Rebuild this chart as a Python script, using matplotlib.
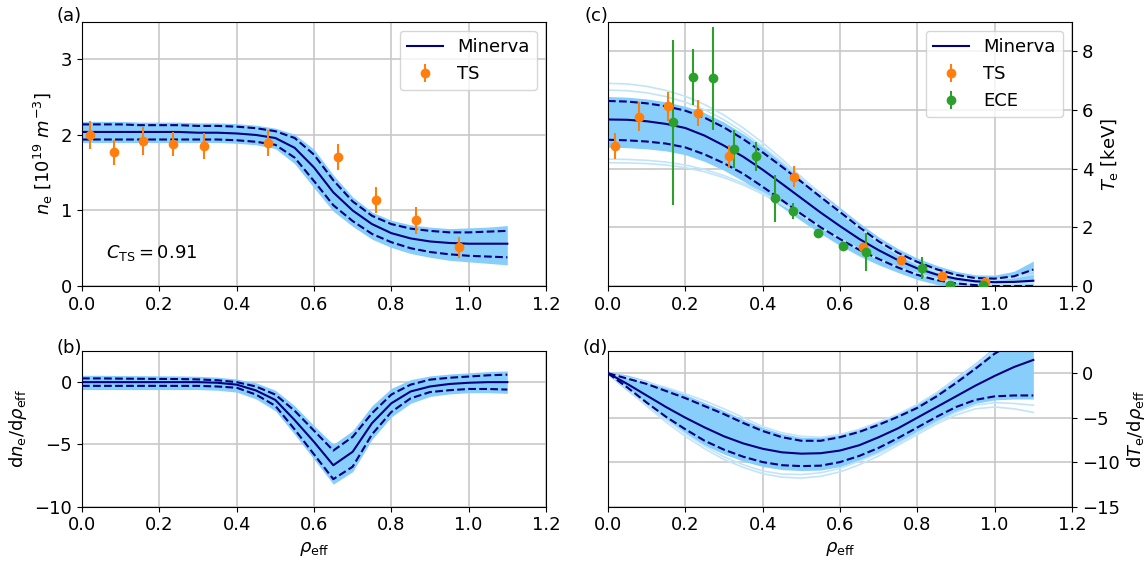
import numpy as np
import matplotlib.pyplot as plt

# data ------------------------------------------------------------------------
rho = [0.00, 0.05, 0.10, 0.15, 0.20, 0.25, 0.30, 0.35, 0.40, 0.45, 0.50, 0.55,
       0.60, 0.65, 0.70, 0.75, 0.80, 0.85, 0.90, 0.95, 1.00, 1.05, 1.10]

# (a) density profile
ne_mean = [2.04, 2.04, 2.04, 2.04, 2.04, 2.04, 2.03, 2.03, 2.02, 2.00, 1.96, 1.83,
           1.57, 1.24, 1.00, 0.82, 0.70, 0.63, 0.59, 0.57, 0.56, 0.56, 0.56]
ne_up = [2.14, 2.14, 2.14, 2.13, 2.13, 2.13, 2.12, 2.12, 2.11, 2.09, 2.05, 1.96,
         1.74, 1.40, 1.12, 0.93, 0.82, 0.76, 0.73, 0.71, 0.71, 0.72, 0.73]
ne_low = [1.94, 1.94, 1.94, 1.94, 1.94, 1.94, 1.94, 1.94, 1.93, 1.91, 1.87, 1.70,
          1.39, 1.07, 0.86, 0.69, 0.58, 0.50, 0.45, 0.42, 0.40, 0.39, 0.38]
ne_band_hi = [2.18, 2.18, 2.18, 2.17, 2.17, 2.17, 2.16, 2.16, 2.15, 2.13, 2.09, 2.01,
              1.81, 1.47, 1.18, 0.98, 0.87, 0.81, 0.78, 0.76, 0.77, 0.78, 0.80]
ne_band_lo = [1.90, 1.90, 1.90, 1.90, 1.90, 1.90, 1.90, 1.90, 1.89, 1.87, 1.82, 1.62,
              1.30, 0.99, 0.79, 0.62, 0.51, 0.43, 0.38, 0.34, 0.32, 0.30, 0.28]
ts_ne_rho = [0.020, 0.083, 0.157, 0.235, 0.315, 0.481, 0.661, 0.760, 0.865, 0.976]
ts_ne = [2.00, 1.77, 1.92, 1.88, 1.85, 1.89, 1.71, 1.14, 0.87, 0.51]
ts_ne_err = [0.19, 0.17, 0.18, 0.16, 0.17, 0.17, 0.17, 0.17, 0.18, 0.14]
c_ts = 0.91

# (b) density gradient
dne_mean = [0.0, 0.0, 0.0, 0.0, 0.0, 0.0, 0.0, -0.05, -0.2, -0.67, -1.43, -3.05,
            -4.8, -6.68, -5.6, -3.3, -1.7, -0.75, -0.35, -0.15, -0.05, 0.0, 0.0]
dne_up = [0.3, 0.3, 0.28, 0.27, 0.26, 0.25, 0.22, 0.15, 0.0, -0.35, -1.0, -2.3,
          -3.9, -5.5, -4.4, -2.5, -1.0, -0.2, 0.2, 0.35, 0.45, 0.55, 0.6]
dne_low = [-0.3, -0.3, -0.3, -0.3, -0.3, -0.3, -0.3, -0.35, -0.45, -1.0, -1.9, -3.8,
           -5.8, -7.8, -6.8, -4.2, -2.4, -1.3, -0.8, -0.65, -0.55, -0.55, -0.6]
dne_band_hi = [0.55, 0.55, 0.53, 0.52, 0.51, 0.5, 0.47, 0.4, 0.25, -0.05, -0.65, -1.9,
               -3.5, -5.0, -3.9, -1.9, -0.5, 0.2, 0.5, 0.65, 0.75, 0.85, 0.9]
dne_band_lo = [-0.6, -0.6, -0.6, -0.6, -0.6, -0.6, -0.6, -0.65, -0.8, -1.35, -2.3, -4.2,
               -6.2, -8.2, -7.2, -4.6, -2.8, -1.7, -1.15, -0.95, -0.85, -0.85, -0.9]

# (c) temperature profile
te_mean = [5.67, 5.66, 5.61, 5.52, 5.38, 5.12, 4.78, 4.40, 3.96, 3.48, 2.99, 2.50,
           2.04, 1.60, 1.22, 0.88, 0.60, 0.39, 0.25, 0.16, 0.13, 0.14, 0.18]
te_up = [6.30, 6.28, 6.22, 6.12, 5.97, 5.73, 5.40, 5.00, 4.55, 4.06, 3.55, 3.03,
         2.52, 2.00, 1.52, 1.13, 0.82, 0.57, 0.38, 0.27, 0.25, 0.33, 0.56]
te_low = [4.98, 4.96, 4.92, 4.85, 4.72, 4.48, 4.18, 3.82, 3.38, 2.92, 2.45, 2.00,
          1.60, 1.23, 0.92, 0.63, 0.38, 0.20, 0.09, 0.03, 0.00, 0.00, 0.00]
te_band_hi = [6.45, 6.43, 6.37, 6.27, 6.12, 5.90, 5.58, 5.18, 4.73, 4.23, 3.72, 3.19,
              2.67, 2.15, 1.67, 1.27, 0.95, 0.70, 0.50, 0.38, 0.37, 0.50, 0.85]
te_band_lo = [4.73, 4.71, 4.67, 4.60, 4.47, 4.24, 3.94, 3.57, 3.14, 2.68, 2.22, 1.78,
              1.38, 1.02, 0.72, 0.46, 0.22, 0.05, -0.05, -0.10, -0.12, -0.12, -0.12]
te_samples = [
    [6.90, 6.88, 6.80, 6.66, 6.46, 6.18, 5.82, 5.38, 4.88, 4.32, 3.72, 3.12,
     2.55, 2.00, 1.52, 1.10, 0.76, 0.50, 0.33, 0.24, 0.22, 0.28, 0.40],
    [6.67, 6.65, 6.58, 6.45, 6.26, 6.00, 5.66, 5.24, 4.75, 4.22, 3.66, 3.08,
     2.50, 1.96, 1.48, 1.07, 0.74, 0.48, 0.31, 0.22, 0.21, 0.30, 0.50],
    [4.32, 4.31, 4.28, 4.22, 4.12, 3.97, 3.76, 3.50, 3.18, 2.82, 2.43, 2.02,
     1.62, 1.25, 0.92, 0.64, 0.42, 0.25, 0.14, 0.08, 0.06, 0.08, 0.12],
    [4.20, 4.19, 4.17, 4.12, 4.03, 3.89, 3.69, 3.44, 3.13, 2.78, 2.40, 2.00,
     1.61, 1.24, 0.91, 0.63, 0.41, 0.24, 0.13, 0.07, 0.05, 0.06, 0.09],
]
ts_te_rho = [0.017, 0.080, 0.155, 0.233, 0.312, 0.480, 0.659, 0.759, 0.865, 0.975]
ts_te = [4.78, 5.77, 6.12, 5.89, 4.41, 3.72, 1.34, 0.89, 0.33, 0.12]
ts_te_err = [0.44, 0.48, 0.50, 0.45, 0.40, 0.36, 0.10, 0.10, 0.08, 0.08]
ece_rho = [0.168, 0.221, 0.271, 0.326, 0.382, 0.431, 0.479, 0.544, 0.609, 0.668,
           0.811, 0.884, 0.971]
ece_te = [5.57, 7.12, 7.07, 4.66, 4.42, 2.98, 2.54, 1.79, 1.36, 1.16, 0.61, 0.02, 0.02]
ece_err = [2.80, 0.96, 1.75, 0.64, 0.49, 0.81, 0.27, 0.15, 0.10, 0.65, 0.38, 0.05, 0.05]

# (d) temperature gradient
dte_mean = [0.0, -1.2, -2.5, -3.8, -5.0, -6.1, -7.1, -7.9, -8.5, -8.9, -9.05, -9.0,
            -8.7, -8.1, -7.2, -6.2, -5.0, -3.8, -2.6, -1.4, -0.3, 0.7, 1.5]
dte_up = [0.0, -0.6, -1.2, -2.0, -2.8, -3.7, -4.6, -5.6, -6.5, -7.2, -7.6, -7.6,
          -7.2, -6.6, -5.8, -4.9, -3.9, -2.6, -1.1, 0.5, 2.2, 3.5, 4.5]
dte_low = [0.0, -1.6, -3.3, -4.9, -6.3, -7.6, -8.6, -9.4, -10.0, -10.35, -10.45, -10.4,
           -10.0, -9.3, -8.4, -7.3, -6.1, -4.9, -3.8, -3.0, -2.6, -2.5, -2.5]
dte_band_hi = [0.2, -0.2, -0.8, -1.6, -2.4, -3.3, -4.2, -5.2, -6.1, -6.8, -7.2, -7.2,
               -6.8, -6.2, -5.4, -4.5, -3.4, -2.0, -0.4, 1.2, 3.0, 4.5, 5.5]
dte_band_lo = [-0.2, -2.0, -3.7, -5.3, -6.8, -8.1, -9.1, -9.9, -10.5, -10.85, -10.95, -10.9,
               -10.5, -9.8, -8.9, -7.8, -6.6, -5.4, -4.3, -3.4, -3.0, -2.9, -2.9]
dte_samples = [
    [0.0, -1.8, -3.7, -5.5, -7.1, -8.5, -9.7, -10.6, -11.3, -11.7, -11.8, -11.6,
     -11.1, -10.3, -9.3, -8.1, -6.9, -5.7, -4.7, -4.0, -3.8, -4.0, -4.4],
    [0.0, -1.7, -3.5, -5.2, -6.8, -8.2, -9.4, -10.3, -11.0, -11.35, -11.4, -11.2,
     -10.7, -9.9, -9.0, -7.9, -6.7, -5.5, -4.4, -3.6, -3.3, -3.4, -3.6],
    [0.0, -0.5, -1.0, -1.6, -2.3, -3.1, -4.0, -5.0, -6.0, -6.7, -7.1, -7.2,
     -6.9, -6.3, -5.5, -4.6, -3.5, -2.2, -0.7, 0.9, 2.6, 4.0, 5.0],
]

# style -----------------------------------------------------------------------
plt.rcParams['font.size'] = 13
band_col = '#87cefa'
sample_col = '#c2e4fb'
line_col = 'navy'

fig = plt.figure(figsize=(11.48, 5.65), dpi=100)
ax_a = fig.add_axes([0.0714, 0.4938, 0.4042, 0.4678])
ax_c = fig.add_axes([0.5296, 0.4938, 0.4042, 0.4678])
ax_b = fig.add_axes([0.0714, 0.1035, 0.4042, 0.2752])
ax_d = fig.add_axes([0.5296, 0.1035, 0.4042, 0.2752])


def draw_profile(ax, mean, up, low, hi, lo, samples=()):
    ax.fill_between(rho, lo, hi, color=band_col, lw=0, zorder=1)
    for s in samples:
        ax.plot(rho, s, color=sample_col, lw=1.2, zorder=1)
    ax.plot(rho, mean, color=line_col, lw=1.5, zorder=3, label='Minerva')
    ax.plot(rho, up, color=line_col, lw=1.5, ls='--', zorder=3)
    ax.plot(rho, low, color=line_col, lw=1.5, ls='--', zorder=3)


draw_profile(ax_a, ne_mean, ne_up, ne_low, ne_band_hi, ne_band_lo)
ax_a.errorbar(ts_ne_rho, ts_ne, yerr=ts_ne_err, fmt='o', color='#ff7f0e', ms=6,
              elinewidth=1.5, zorder=4, label='TS')
ax_a.text(0.052, 0.123, r'$C_\mathrm{TS} = %.2f$' % c_ts, transform=ax_a.transAxes,
          va='center', ha='left')
ax_a.set_ylim(0, 3.5)
ax_a.set_yticks([0, 1, 2, 3])
ax_a.set_ylabel(r'$n_\mathrm{e}$ [$10^{19}$ $m^{-3}$]')
ax_a.legend(loc='upper right')

draw_profile(ax_c, te_mean, te_up, te_low, te_band_hi, te_band_lo, te_samples)
ax_c.errorbar(ts_te_rho, ts_te, yerr=ts_te_err, fmt='o', color='#ff7f0e', ms=6,
              elinewidth=1.5, zorder=4, label='TS')
ax_c.errorbar(ece_rho, ece_te, yerr=ece_err, fmt='o', color='#2ca02c', ms=6,
              elinewidth=1.5, zorder=4, label='ECE')
ax_c.set_ylim(0, 9)
ax_c.set_yticks([0, 2, 4, 6, 8])
ax_c.yaxis.tick_right()
ax_c.yaxis.set_label_position('right')
ax_c.set_ylabel(r'$T_\mathrm{e}$ [keV]')
ax_c.legend(loc='upper right')

draw_profile(ax_b, dne_mean, dne_up, dne_low, dne_band_hi, dne_band_lo)
ax_b.set_ylim(-10, 2.5)
ax_b.set_yticks([0, -5, -10])
ax_b.set_ylabel(r'd$n_\mathrm{e}$/d$\rho_\mathrm{eff}$')
ax_b.set_xlabel(r'$\rho_\mathrm{eff}$')

draw_profile(ax_d, dte_mean, dte_up, dte_low, dte_band_hi, dte_band_lo, dte_samples)
ax_d.set_ylim(-15, 2.5)
ax_d.set_yticks([0, -5, -10, -15])
ax_d.yaxis.tick_right()
ax_d.yaxis.set_label_position('right')
ax_d.set_ylabel(r'd$T_\mathrm{e}$/d$\rho_\mathrm{eff}$')
ax_d.set_xlabel(r'$\rho_\mathrm{eff}$')

for ax, tag in [(ax_a, '(a)'), (ax_b, '(b)'), (ax_c, '(c)'), (ax_d, '(d)')]:
    ax.set_xlim(0, 1.2)
    ax.set_xticks(np.arange(0, 1.21, 0.2))
    ax.grid(True, color='#c8c8c8', lw=1.2)
    ax.set_axisbelow(True)
    ax.text(0, 1.02, tag, transform=ax.transAxes, ha='right', va='center')

fig.savefig('out.png', dpi=100)
